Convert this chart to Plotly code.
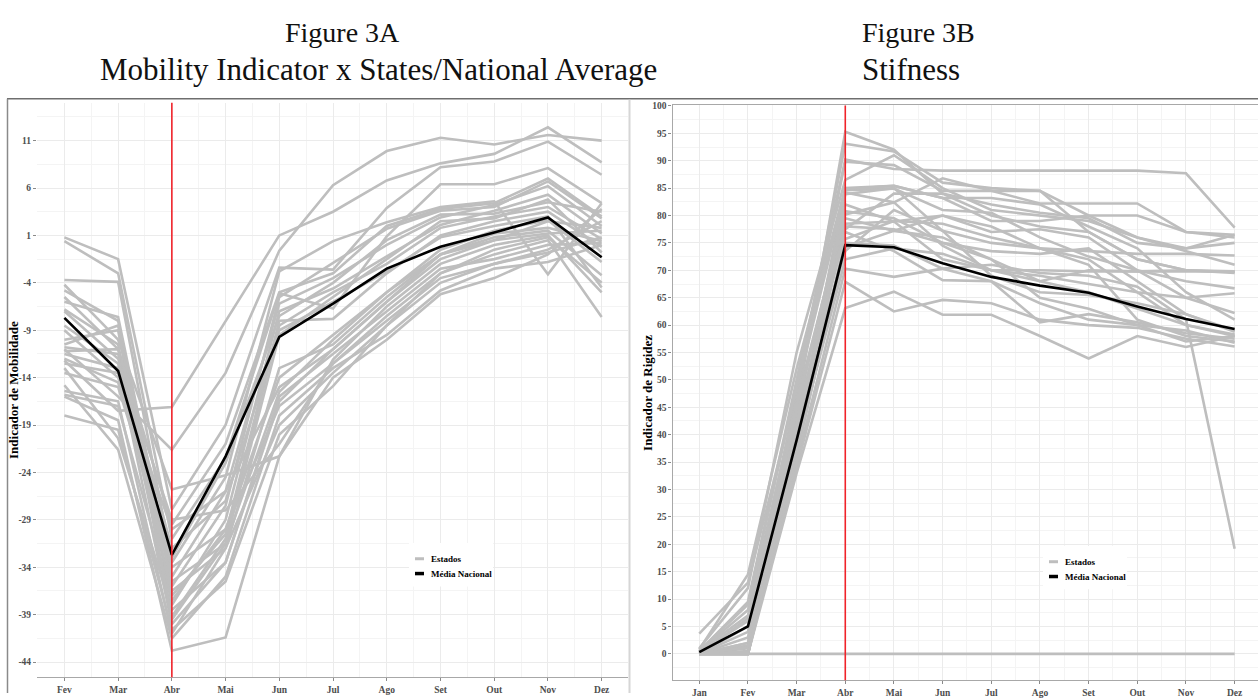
import plotly.graph_objects as go

# ---------------------------------------------------------------- data ----
MONTHS_A = ["Fev", "Mar", "Abr", "Mai", "Jun", "Jul", "Ago", "Set", "Out", "Nov", "Dez"]
MONTHS_B = ["Jan", "Fev", "Mar", "Abr", "Mai", "Jun", "Jul", "Ago", "Set", "Out", "Nov", "Dez"]

MOB_TICKS = [11, 6, 1, -4, -9, -14, -19, -24, -29, -34, -39, -44]
RIG_TICKS = list(range(0, 101, 5))

# Mobility indicator, national average (Fev..Dez)
mob_national = [-7.7, -13.3, -32.7, -22.3, -9.7, -6.2, -2.5, -0.2, 1.3, 2.9, -1.3]

# Mobility indicator per state (Fev..Dez)
mob_state_01 = [-11.0, -16.0, -21.6, -13.5, -0.6, 6.3, 9.9, 11.3, 10.6, 11.6, 11.0]
mob_state_02 = [-12.2, -17.5, -17.1, -8.0, 1.0, 3.5, 6.8, 8.6, 9.6, 12.4, 8.7]
mob_state_03 = [0.8, -1.5, -27.9, -19.0, -2.4, -2.6, 3.9, 8.2, 8.8, 10.9, 7.4]
mob_state_04 = [0.4, -3.0, -31.0, -22.5, -5.1, -6.7, 0.9, 6.4, 6.4, 8.1, 4.4]
mob_state_05 = [-3.7, -3.9, -33.5, -24.5, -2.8, 0.4, 2.4, 4.0, 4.6, -3.1, 4.4]
mob_state_06 = [-4.8, -8.0, -36.0, -27.5, -5.5, -1.9, 1.7, 3.6, 4.0, 6.7, 2.8]
mob_state_07 = [-6.0, -7.6, -35.0, -26.0, -6.2, -3.5, 0.0, 2.9, 4.2, 6.2, 2.0]
mob_state_08 = [-10.5, -8.5, -38.0, -29.0, -7.0, -4.6, -1.2, 2.1, 3.6, 5.3, 1.2]
mob_state_09 = [-6.8, -10.5, -39.2, -31.0, -8.5, -5.0, -2.0, 1.8, 3.0, 4.0, 0.6]
mob_state_10 = [-10.8, -11.5, -37.0, -30.5, -8.0, -7.8, -3.0, 1.0, 2.5, 3.5, -0.2]
mob_state_11 = [-11.5, -13.0, -40.0, -33.5, -16.5, -11.0, -6.0, -1.0, 0.8, 1.5, -3.2]
mob_state_12 = [-12.0, -14.5, -34.0, -30.0, -17.0, -12.5, -7.5, -3.0, -0.5, 0.8, -4.0]
mob_state_13 = [-15.4, -16.5, -41.0, -32.0, -13.0, -10.5, -5.5, -1.0, 0.5, 1.2, 1.5]
mob_state_14 = [-16.0, -18.5, -42.8, -41.4, -22.3, -12.1, -6.5, -2.0, 0.0, 1.0, -5.0]
mob_state_15 = [-18.0, -19.5, -40.6, -35.5, -20.0, -14.9, -8.5, -3.0, -1.0, 0.5, -7.6]
mob_state_16 = [-13.0, -20.4, -38.5, -33.5, -16.0, -11.5, -7.0, -2.5, -1.5, 0.0, 0.2]
mob_state_17 = [-14.8, -21.6, -41.5, -35.0, -18.0, -13.0, -9.5, -4.8, -2.5, -1.8, 0.0]
mob_state_18 = [-4.2, -10.0, -25.8, -24.3, -22.3, -14.0, -10.0, -5.2, -3.5, -1.0, 3.8]
mob_state_19 = [-7.0, -12.0, -29.0, -28.0, -21.0, -12.5, -8.0, -3.5, -2.0, -0.5, 2.5]
mob_state_20 = [-9.0, -14.0, -30.0, -26.0, -15.0, -11.0, -6.0, -1.5, 0.5, 2.5, 1.8]
mob_state_21 = [-11.2, -11.0, -32.0, -27.0, -9.0, -6.0, -2.8, 0.8, 2.0, 3.0, -4.5]
mob_state_22 = [-12.5, -13.5, -36.5, -32.0, -19.0, -13.5, -8.5, -4.0, -2.0, -0.8, 0.8]
mob_state_23 = [-15.8, -17.0, -37.5, -30.0, -14.0, -9.5, -5.0, -1.0, 1.2, 1.8, 0.4]
mob_state_24 = [-10.0, -9.0, -39.5, -31.5, -9.5, -5.5, -1.5, 2.5, 2.8, 4.8, -0.8]
mob_state_25 = [-13.5, -15.0, -33.0, -23.0, -7.5, -4.0, 0.5, 3.2, 3.3, 4.5, 3.5]
mob_state_26 = [-5.5, -11.0, -29.5, -21.0, -5.0, -3.0, 2.0, 3.8, 4.4, 7.0, 3.0]
mob_state_27 = [-8.5, -12.5, -35.5, -31.5, -15.5, -10.0, -5.0, -0.5, 1.5, 2.6, -1.8]

# Stringency indicator, national average (Jan..Dez)
rig_national = [0.3, 5.0, 39.0, 74.6, 74.2, 71.3, 68.8, 67.2, 65.9, 63.4, 61.1, 59.3]

# Stringency indicator per state (Jan..Dez)
rig_state_01 = [0.0, 1.0, 45, 95.3, 92.0, 84.0, 80.0, 78.0, 77.0, 72.0, 70.0, 69.8]
rig_state_02 = [0.0, 2.0, 48, 93.1, 91.7, 86.0, 85.0, 84.5, 80.0, 76.0, 74.0, 76.5]
rig_state_03 = [0.5, 9.5, 50, 90.2, 88.5, 88.2, 88.2, 88.2, 88.2, 88.2, 87.7, 77.8]
rig_state_04 = [0.0, 6.5, 47, 89.8, 89.2, 84.5, 84.5, 84.5, 77.0, 72.0, 70.0, 69.5]
rig_state_05 = [0.8, 14.5, 52, 85.0, 85.4, 83.2, 79.0, 79.0, 80.0, 80.0, 77.0, 76.0]
rig_state_06 = [0.0, 0.0, 40, 84.6, 84.9, 81.0, 80.5, 76.0, 72.5, 70.0, 68.0, 66.7]
rig_state_07 = [3.7, 13.0, 48, 84.2, 82.4, 86.8, 84.5, 82.2, 82.2, 82.2, 77.0, 76.5]
rig_state_08 = [0.0, 0.0, 38, 83.9, 85.0, 77.2, 75.0, 74.0, 72.0, 66.0, 60.0, 58.3]
rig_state_09 = [0.0, 1.5, 44, 82.0, 78.9, 80.0, 77.0, 77.5, 76.0, 70.0, 65.0, 62.2]
rig_state_10 = [0.5, 8.0, 46, 80.2, 82.4, 74.5, 70.0, 68.0, 70.0, 69.8, 70.0, 69.7]
rig_state_11 = [0.0, 5.0, 42, 79.5, 77.2, 80.0, 78.0, 74.0, 71.0, 61.0, 58.0, 57.0]
rig_state_12 = [0.0, 0.0, 40, 78.5, 78.9, 72.0, 70.0, 70.0, 69.8, 69.8, 69.8, 69.8]
rig_state_13 = [0.0, 3.0, 41, 78.0, 77.5, 75.0, 73.5, 73.0, 74.0, 68.0, 62.0, 58.8]
rig_state_14 = [0.3, 6.0, 43, 77.5, 84.0, 84.0, 82.0, 80.5, 79.5, 75.0, 74.0, 75.0]
rig_state_15 = [0.0, 0.0, 36, 75.7, 79.0, 78.5, 76.0, 74.0, 73.5, 73.0, 73.0, 72.7]
rig_state_16 = [0.0, 2.0, 39, 75.0, 74.5, 70.3, 68.0, 64.0, 61.0, 60.0, 59.0, 56.8]
rig_state_17 = [0.0, 0.5, 37, 74.2, 77.2, 76.0, 72.0, 65.0, 63.0, 60.0, 57.0, 58.0]
rig_state_18 = [0.5, 7.0, 44, 73.5, 81.0, 77.2, 69.0, 66.0, 65.5, 64.0, 62.0, 59.0]
rig_state_19 = [0.0, 0.0, 35, 70.3, 68.8, 70.3, 71.0, 69.5, 69.0, 67.0, 61.0, 19.2]
rig_state_20 = [0.0, 1.2, 34, 67.9, 62.5, 64.6, 64.0, 61.0, 60.0, 59.5, 57.5, 56.1]
rig_state_21 = [0.0, 0.0, 33, 63.1, 66.1, 61.9, 61.9, 58.0, 53.9, 58.0, 56.0, 58.0]
rig_state_22 = [0.5, 9.0, 49, 84.8, 85.4, 83.2, 83.2, 82.0, 78.0, 74.0, 66.0, 61.0]
rig_state_23 = [0.0, 4.0, 45, 80.8, 79.5, 75.0, 72.0, 68.0, 66.0, 63.0, 60.0, 58.0]
rig_state_24 = [0.0, 0.0, 42, 77.0, 73.5, 68.2, 68.0, 60.5, 62.0, 60.5, 58.5, 57.5]
rig_state_25 = [1.0, 12.0, 55, 86.5, 91.0, 85.0, 81.0, 80.0, 79.0, 76.0, 73.5, 71.0]
rig_state_26 = [0.0, 0.0, 38, 72.0, 74.0, 73.0, 70.0, 69.0, 67.5, 66.0, 65.0, 65.8]
rig_state_27 = [0.0, 0.0, 0.0, 0.0, 0.0, 0.0, 0.0, 0.0, 0.0, 0.0, 0.0, 0.0]

MOB_STATES = [
    mob_state_01, mob_state_02, mob_state_03, mob_state_04, mob_state_05, mob_state_06,
    mob_state_07, mob_state_08, mob_state_09, mob_state_10, mob_state_11, mob_state_12,
    mob_state_13, mob_state_14, mob_state_15, mob_state_16, mob_state_17, mob_state_18,
    mob_state_19, mob_state_20, mob_state_21, mob_state_22, mob_state_23, mob_state_24,
    mob_state_25, mob_state_26, mob_state_27,
]
RIG_STATES = [
    rig_state_01, rig_state_02, rig_state_03, rig_state_04, rig_state_05, rig_state_06,
    rig_state_07, rig_state_08, rig_state_09, rig_state_10, rig_state_11, rig_state_12,
    rig_state_13, rig_state_14, rig_state_15, rig_state_16, rig_state_17, rig_state_18,
    rig_state_19, rig_state_20, rig_state_21, rig_state_22, rig_state_23, rig_state_24,
    rig_state_25, rig_state_26, rig_state_27,
]

# --------------------------------------------------------------- style ----
W, H = 1258, 698
GREY = "#bebebe"
BLACK = "#000000"
RED = "#f0232a"
GRID = "#ebebeb"
GRID_MINOR = "#f4f4f4"
TICK_COL = "#4d4d4d"
SERIF = "Liberation Serif, Times New Roman, serif"


def px(x):
    return x / W


def py(y):
    return 1 - y / H


fig = go.Figure()

xa = list(range(len(MONTHS_A)))
xb = list(range(len(MONTHS_B)))

for s in MOB_STATES:
    fig.add_trace(go.Scatter(x=xa, y=s, mode="lines", xaxis="x", yaxis="y",
                             line=dict(color=GREY, width=2.6), showlegend=False,
                             hoverinfo="skip"))
fig.add_trace(go.Scatter(x=xa, y=mob_national, mode="lines", xaxis="x", yaxis="y",
                         line=dict(color=BLACK, width=2.6), showlegend=False))

for s in RIG_STATES:
    fig.add_trace(go.Scatter(x=xb, y=s, mode="lines", xaxis="x2", yaxis="y2",
                             line=dict(color=GREY, width=2.6), showlegend=False,
                             hoverinfo="skip"))
fig.add_trace(go.Scatter(x=xb, y=rig_national, mode="lines", xaxis="x2", yaxis="y2",
                         line=dict(color=BLACK, width=2.6), showlegend=False))

tickfont = dict(family=SERIF, size=9.5, color=TICK_COL, weight="bold")

axis_common = dict(showgrid=True, gridcolor=GRID, gridwidth=1, zeroline=False,
                   ticks="outside", ticklen=3, tickcolor="#8a8a8a", tickfont=tickfont)

fig.update_layout(
    width=W, height=H,
    margin=dict(l=0, r=0, t=0, b=0),
    paper_bgcolor="white", plot_bgcolor="white",
    showlegend=False,
    xaxis=dict(domain=[px(37), px(628)], range=[-0.51, 10.49],
               tickmode="array", tickvals=xa, ticktext=MONTHS_A,
               minor=dict(tickvals=[i + 0.5 for i in xa[:-1]], showgrid=True,
                          gridcolor=GRID_MINOR, ticks=""),
               showline=True, linecolor="#a8a8a8", linewidth=1.2,
               anchor="y", **axis_common),
    yaxis=dict(domain=[py(682), py(100)], range=[-45.6, 15.0],
               tickmode="array", tickvals=MOB_TICKS,
               ticktext=[str(v) for v in MOB_TICKS],
               minor=dict(tickvals=[v + 2.5 for v in MOB_TICKS], showgrid=True,
                          gridcolor=GRID_MINOR, ticks=""),
               showline=False, anchor="x", **axis_common),
    xaxis2=dict(domain=[px(672.5), 1.0], range=[-0.55, 11.48],
                tickmode="array", tickvals=xb, ticktext=MONTHS_B,
                minor=dict(tickvals=[i + 0.5 for i in xb], showgrid=True,
                           gridcolor=GRID_MINOR, ticks=""),
                showline=True, mirror=True, linecolor="#a8a8a8", linewidth=1.2,
                anchor="y2", **axis_common),
    yaxis2=dict(domain=[py(685), py(102.7)], range=[-4.8, 100.1],
                tickmode="array", tickvals=RIG_TICKS,
                ticktext=[str(v) for v in RIG_TICKS],
                minor=dict(tickvals=[v + 2.5 for v in RIG_TICKS[:-1]] + [-2.5],
                           showgrid=True, gridcolor=GRID_MINOR, ticks=""),
                showline=True, linecolor="#a8a8a8", linewidth=1.2,
                anchor="x2", **axis_common),
)

# April reference line in both panels
abr_a = MONTHS_A.index("Abr")
abr_b = MONTHS_B.index("Abr")
fig.add_shape(type="line", xref="x", yref="y domain", x0=abr_a, x1=abr_a, y0=0, y1=1,
              line=dict(color=RED, width=1.6), layer="above")
fig.add_shape(type="line", xref="x2", yref="y2 domain", x0=abr_b, x1=abr_b, y0=0, y1=1,
              line=dict(color=RED, width=1.6), layer="above")

# frame around the figure panels
fig.add_shape(type="line", xref="paper", yref="paper", x0=px(7), x1=1, y0=py(96), y1=py(96),
              line=dict(color="#6e6e6e", width=1.5))
fig.add_shape(type="line", xref="paper", yref="paper", x0=px(7.5), x1=px(7.5), y0=0, y1=py(96),
              line=dict(color="#8a8a8a", width=1.5))
fig.add_shape(type="line", xref="paper", yref="paper", x0=px(629.5), x1=px(629.5), y0=0, y1=py(97),
              line=dict(color="#d6d6d6", width=2))

# headings
head_font = dict(family=SERIF, size=28, color="#111111")
sub_font = dict(family=SERIF, size=31, color="#111111")
fig.add_annotation(text="Figure 3A", x=px(342), y=py(29), xref="paper", yref="paper",
                   showarrow=False, font=head_font, xanchor="center", yanchor="middle")
fig.add_annotation(text="Mobility Indicator x States/National Average", x=px(378), y=py(66),
                   xref="paper", yref="paper", showarrow=False, font=sub_font,
                   xanchor="center", yanchor="middle")
fig.add_annotation(text="Figure 3B", x=px(860), y=py(29), xref="paper", yref="paper",
                   showarrow=False, font=head_font, xanchor="left", yanchor="middle")
fig.add_annotation(text="Stifness", x=px(860), y=py(66), xref="paper", yref="paper",
                   showarrow=False, font=sub_font, xanchor="left", yanchor="middle")

# axis titles
ytitle_font = dict(family=SERIF, size=13, color="#000000", weight="bold")
fig.add_annotation(text="Indicador de Mobilidade", x=px(14), y=py(391), xref="paper",
                   yref="paper", showarrow=False, textangle=-90, font=ytitle_font,
                   xanchor="center", yanchor="middle")
fig.add_annotation(text="Indicador de Rigidez", x=px(648), y=py(394), xref="paper",
                   yref="paper", showarrow=False, textangle=-90, font=ytitle_font,
                   xanchor="center", yanchor="middle")

# legends
legend_font = dict(family=SERIF, size=9, color="#000000", weight="bold")


def add_legend(x0, y0):
    fig.add_shape(type="rect", xref="paper", yref="paper",
                  x0=px(x0 - 6), x1=px(x0 + 78), y0=py(y0 + 28), y1=py(y0 - 16),
                  fillcolor="white", line=dict(width=0), layer="above")
    entries = [("Estados", GREY, 3, 0), ("Média Nacional", BLACK, 3.5, 15)]
    for label, col, w, dy in entries:
        fig.add_shape(type="line", xref="paper", yref="paper",
                      x0=px(x0), x1=px(x0 + 9), y0=py(y0 + dy), y1=py(y0 + dy),
                      line=dict(color=col, width=w), layer="above")
        fig.add_annotation(text=label, x=px(x0 + 14), y=py(y0 + dy), xref="paper",
                           yref="paper", showarrow=False, font=legend_font,
                           xanchor="left", yanchor="middle")


add_legend(415, 562)
add_legend(1049, 565)

fig.write_html("out.html")
